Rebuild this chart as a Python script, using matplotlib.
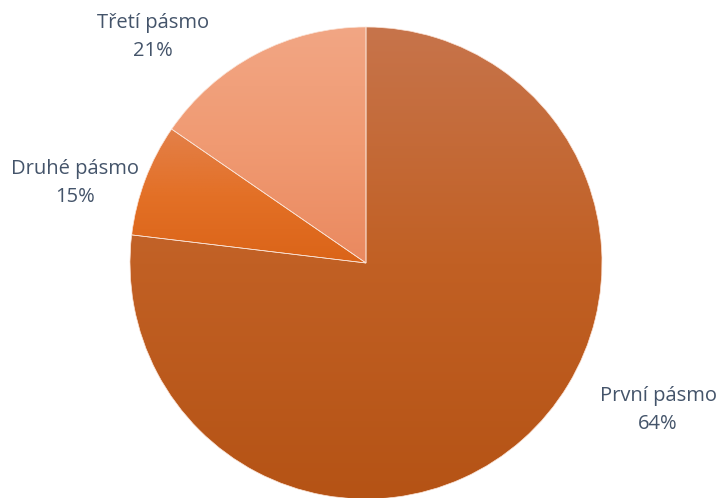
import matplotlib

matplotlib.use("Agg")
import matplotlib.pyplot as plt
import numpy as np
from matplotlib.colors import LinearSegmentedColormap

# slice sizes as drawn (angles), clockwise from 12 o'clock
categories = ["První pásmo", "Druhé pásmo", "Třetí pásmo"]
slice_sizes = [76.9, 7.7, 15.4]
# percentages printed on the labels
pct_labels = ["64%", "15%", "21%"]

# top / middle / bottom gradient colours per slice
grad_stops = [
    ["#C7744B", "#C16024", "#B55315"],
    ["#E38049", "#E37026", "#DB6418"],
    ["#F2A684", "#F09A72", "#EA895F"],
]

label_pos = [(658, 410), (75, 183), (153, 37)]
TEXT_COLOR = "#44546A"

W, H = 722, 498
fig = plt.figure(figsize=(W / 100, H / 100), dpi=100)
ax = fig.add_axes([0, 0, 1, 1])

center = (366, H - 263)
radius = 236

wedges, _ = ax.pie(
    slice_sizes,
    startangle=90,
    counterclock=False,
    center=center,
    radius=radius,
    wedgeprops=dict(edgecolor="#FBE3D6", linewidth=0.5),
)

grad = np.linspace(0, 1, 256).reshape(-1, 1)
for i, w in enumerate(wedges):
    verts = w.get_path().vertices
    x0, x1 = verts[:, 0].min(), verts[:, 0].max()
    y0, y1 = verts[:, 1].min(), verts[:, 1].max()
    cmap = LinearSegmentedColormap.from_list(f"g{i}", grad_stops[i])
    im = ax.imshow(grad, cmap=cmap, extent=[x0, x1, y0, y1], origin="upper",
                   aspect="auto", interpolation="bilinear", zorder=2)
    im.set_clip_path(w)
    w.set_zorder(3)
    w.set_facecolor("none")

for (x, y), cat, pct in zip(label_pos, categories, pct_labels):
    ax.text(x, H - y, f"{cat}\n{pct}", ha="center", va="center", fontsize=14.5,
            color=TEXT_COLOR, family="Open Sans", linespacing=1.5)

ax.set_xlim(0, W)
ax.set_ylim(0, H)
ax.set_aspect("auto")
ax.axis("off")
fig.savefig("out.png", dpi=100, facecolor="white")
